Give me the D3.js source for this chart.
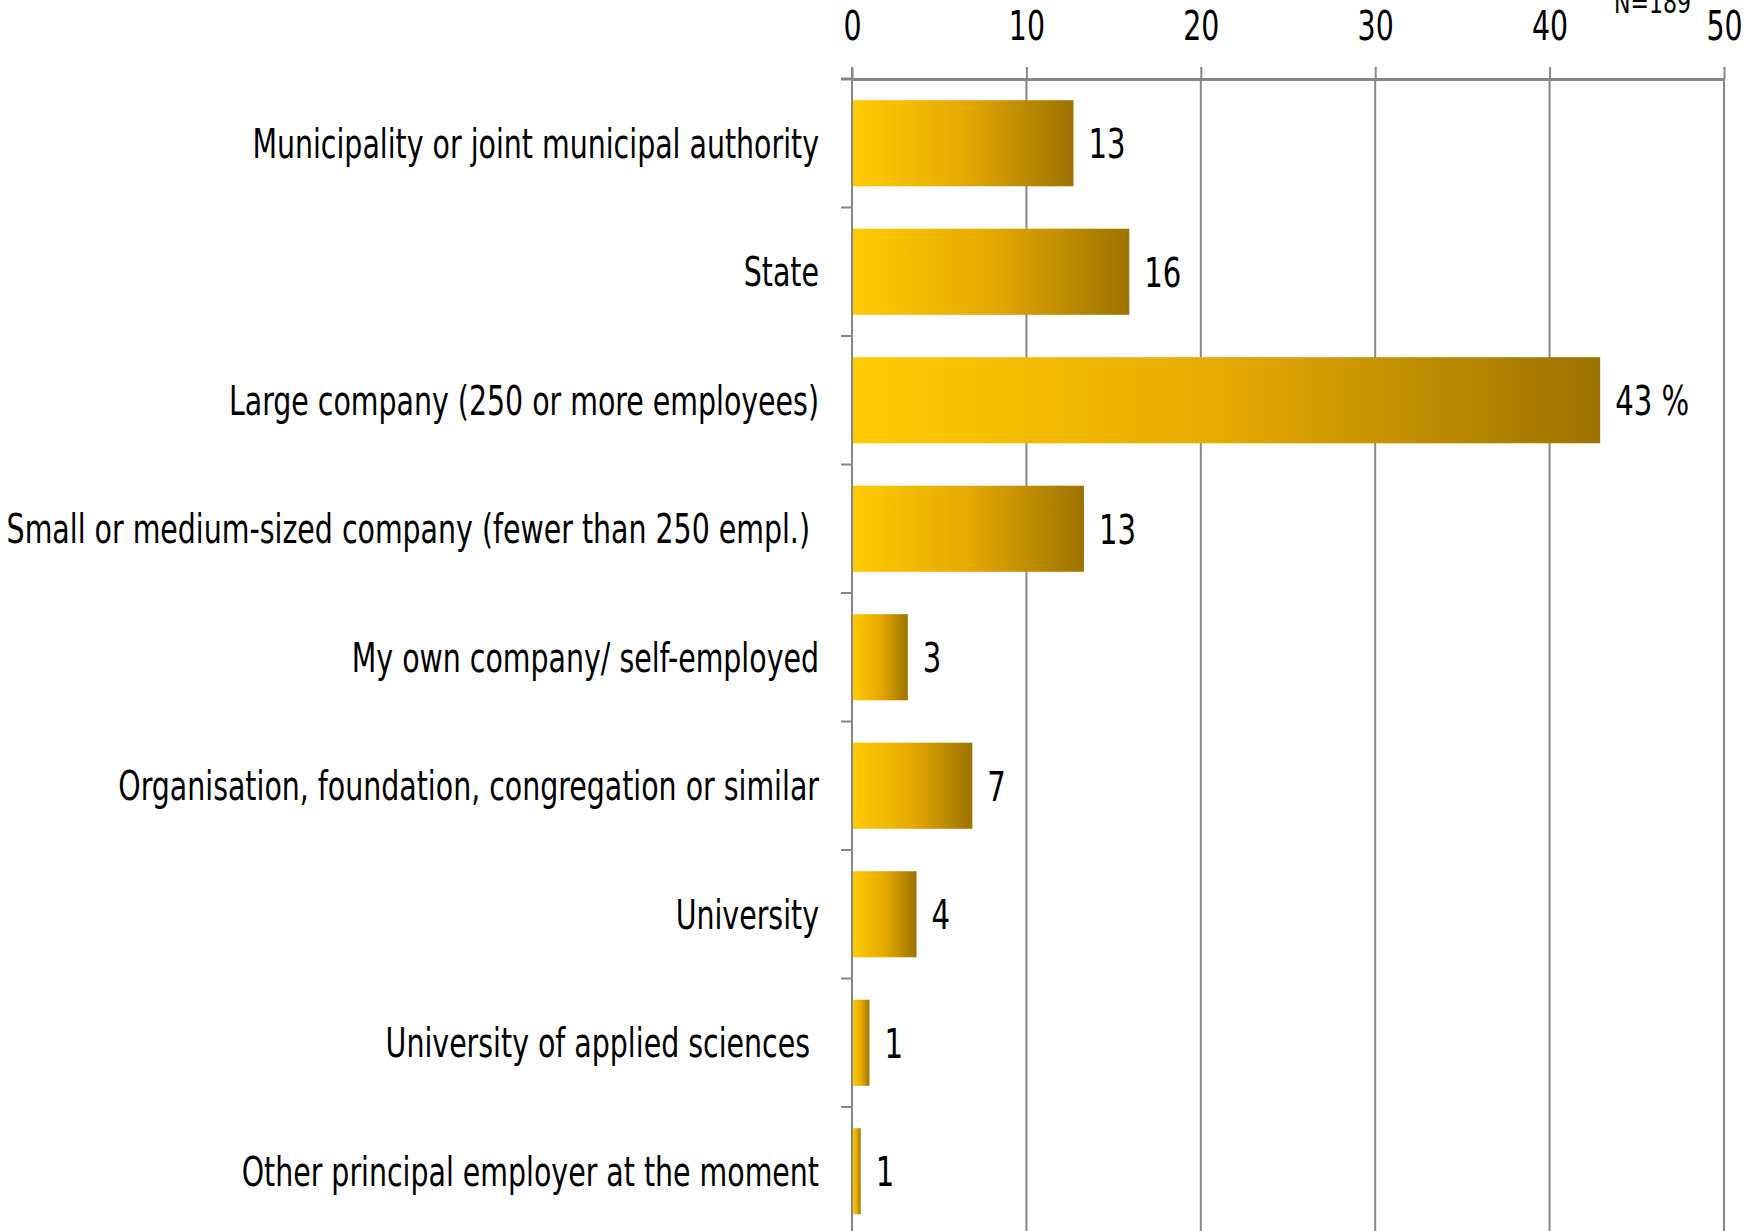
<!DOCTYPE html>
<html>
<head>
<meta charset="utf-8">
<script src="https://cdn.jsdelivr.net/npm/d3@7"></script>
<style>
  html, body { margin: 0; padding: 0; background: #fff; }
  svg text { font-family: "DejaVu Sans Condensed", "DejaVu Sans", sans-serif; fill: #000; white-space: pre; }
</style>
</head>
<body>
<svg id="chart" width="1763" height="1231"></svg>
<script>
const categories = [
  "Municipality or joint municipal authority",
  "State",
  "Large company (250 or more employees)",
  "Small or medium-sized company (fewer than 250 empl.) ",
  "My own company/ self-employed",
  "Organisation, foundation, congregation or similar",
  "University",
  "University of applied sciences ",
  "Other principal employer at the moment"
];
const values = [12.7, 15.9, 42.9, 13.3, 3.2, 6.9, 3.7, 1.0, 0.5];
const valueLabels = ["13", "16", "43 %", "13", "3", "7", "4", "1", "1"];
const xTicks = [0, 10, 20, 30, 40, 50];
const noteText = "N=189";

const svg = d3.select("#chart");
const W = 1763, H = 1231;
const axisY = 79;
const squeeze = 0.79;
const x = d3.scaleLinear().domain([0, 50]).range([852, 1724]);
const y = d3.scaleBand().domain(categories)
  .range([axisY, axisY + 9 * 128.5])
  .paddingInner(0.33).paddingOuter(0.165);

const grey = "#878787";

const defs = svg.append("defs");
const grad = defs.append("linearGradient").attr("id", "barGrad")
  .attr("x1", "0%").attr("x2", "100%").attr("y1", "0%").attr("y2", "0%");
grad.append("stop").attr("offset", "0%").attr("stop-color", "#FFCB00");
grad.append("stop").attr("offset", "50%").attr("stop-color", "#E6A900");
grad.append("stop").attr("offset", "100%").attr("stop-color", "#9C7300");

// gridlines
svg.append("g").selectAll("line").data(xTicks.filter(d => d > 0)).join("line")
  .attr("x1", d => x(d)).attr("x2", d => x(d))
  .attr("y1", axisY).attr("y2", H)
  .attr("stroke", grey).attr("stroke-width", 2);

// bars
svg.append("g").selectAll("rect").data(values).join("rect")
  .attr("x", x(0) + 1)
  .attr("y", (d, i) => y(categories[i]))
  .attr("width", d => x(d) - x(0) - 1)
  .attr("height", y.bandwidth())
  .attr("fill", "url(#barGrad)");

// top axis
const xAxis = d3.axisTop(x).tickValues(xTicks).tickSize(12).tickSizeOuter(0).tickPadding(27);
const gx = svg.append("g").attr("transform", `translate(0,${axisY})`).call(xAxis);
gx.select(".domain").attr("stroke", grey).attr("stroke-width", 3);
gx.selectAll(".tick line").attr("stroke", grey).attr("stroke-width", 2);
gx.selectAll(".tick text").attr("font-size", 40).attr("fill", "#000")
  .style("font-family", '"DejaVu Sans Condensed", "DejaVu Sans", sans-serif')
  .attr("transform", `scale(${squeeze},1)`);

// left axis line
svg.append("line").attr("x1", x(0)).attr("x2", x(0))
  .attr("y1", axisY - 12).attr("y2", H)
  .attr("stroke", grey).attr("stroke-width", 2);
// horizontal extension to the left (first category tick)
svg.append("line").attr("x1", x(0) - 11).attr("x2", x(0))
  .attr("y1", axisY).attr("y2", axisY)
  .attr("stroke", grey).attr("stroke-width", 3);

// category ticks at band boundaries
const step = y.step();
const bounds = d3.range(1, categories.length).map(i => y(categories[i]) - y.paddingInner() * step / 2);
svg.append("g").selectAll("line").data(bounds).join("line")
  .attr("x1", x(0) - 11).attr("x2", x(0))
  .attr("y1", d => d).attr("y2", d => d)
  .attr("stroke", grey).attr("stroke-width", 2);

// category labels
svg.append("g").selectAll("text").data(categories).join("text")
  .attr("transform", d => `translate(819,${y(d) + y.bandwidth() / 2}) scale(${squeeze},1)`)
  .attr("dy", "0.36em")
  .attr("text-anchor", "end")
  .attr("font-size", 40)
  .text(d => d);

// value labels
svg.append("g").selectAll("text").data(values).join("text")
  .attr("transform", (d, i) => `translate(${x(d) + 15},${y(categories[i]) + y.bandwidth() / 2}) scale(${squeeze},1)`)
  .attr("dy", "0.36em")
  .attr("font-size", 41)
  .text((d, i) => valueLabels[i]);

// N note
svg.append("text")
  .attr("transform", `translate(1691,13) scale(${squeeze},1)`)
  .attr("text-anchor", "end").attr("font-size", 31)
  .text(noteText);
</script>
</body>
</html>
